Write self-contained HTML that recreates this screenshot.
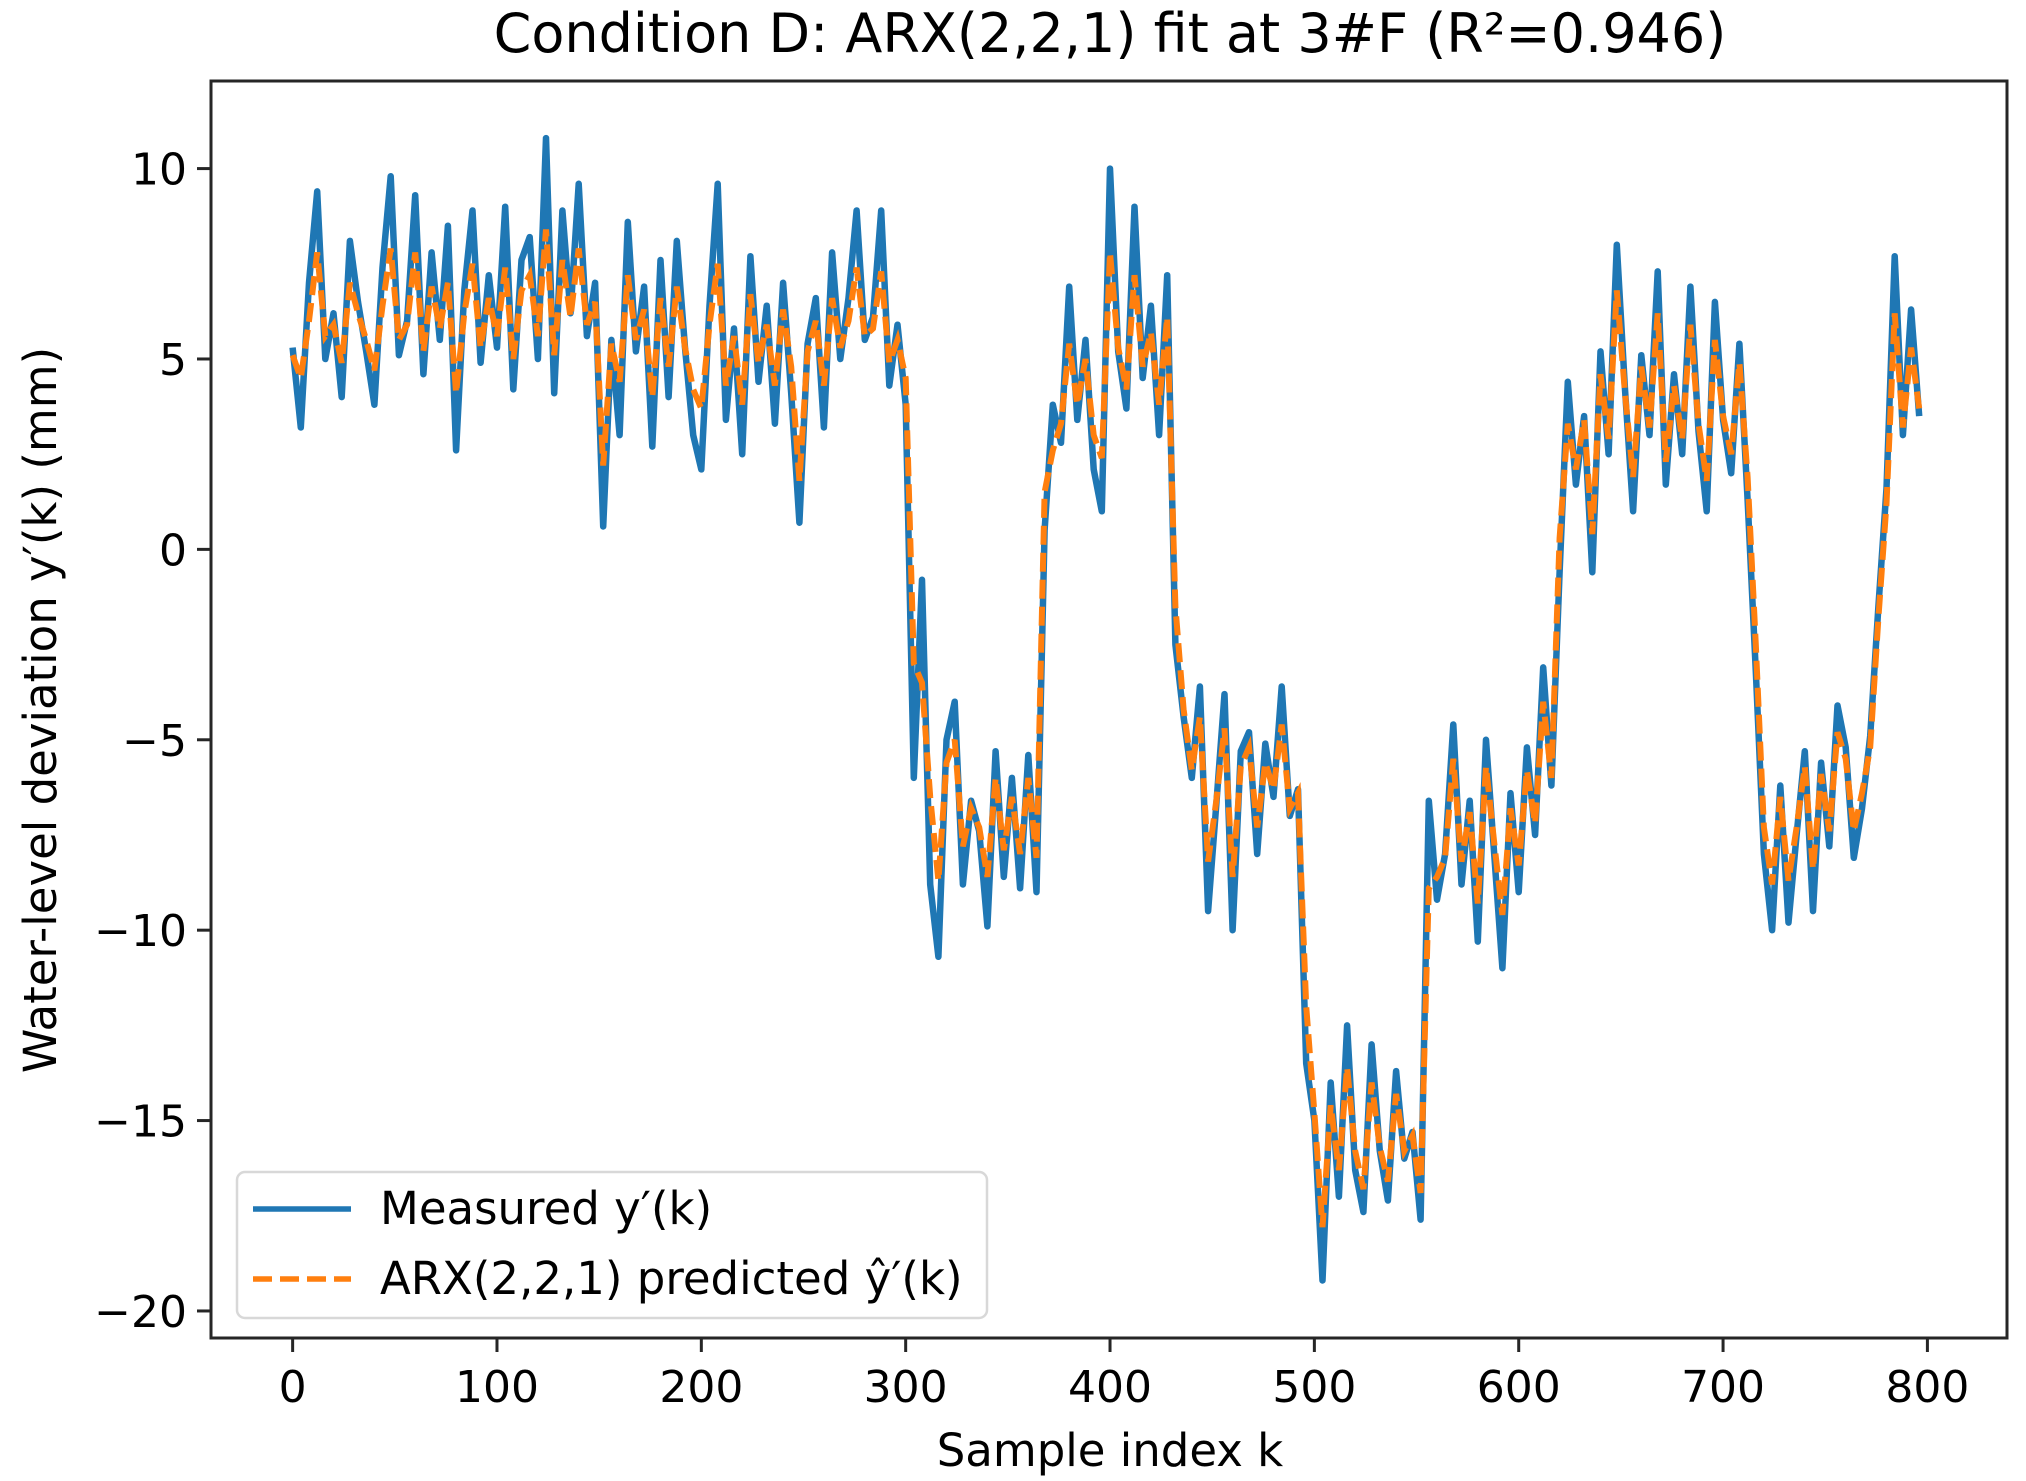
<!DOCTYPE html>
<html><head><meta charset="utf-8"><style>
html,body{margin:0;padding:0;background:#fff}
svg{display:block;font-family:"DejaVu Sans","Liberation Sans",sans-serif}
</style></head><body>
<svg id="chart" width="2026" height="1481" viewBox="0 0 2026 1481" xmlns="http://www.w3.org/2000/svg">
<rect width="2026" height="1481" fill="#fff"/>
<text x="1110" y="52" font-size="54" text-anchor="middle" fill="#000">Condition D: ARX(2,2,1) fit at 3#F (R²=0.946)</text>
<g id="plot"></g>
<g id="axes"></g>
<text x="1110" y="1466" font-size="45" text-anchor="middle">Sample index k</text>
<text transform="translate(56,710) rotate(-90)" font-size="45" text-anchor="middle">Water-level deviation y′(k) (mm)</text>
<g>
<rect x="237" y="1172" width="750" height="146" rx="8" fill="#fff" fill-opacity="0.8" stroke="#d8d8d8" stroke-width="2.5"/>
<line x1="253" y1="1209" x2="351" y2="1209" stroke="#1f77b4" stroke-width="5.5"/>
<text x="380" y="1224" font-size="45">Measured y′(k)</text>
<line x1="253" y1="1279" x2="351" y2="1279" stroke="#ff7f0e" stroke-width="5.5" stroke-dasharray="19,8"/>
<text x="380" y="1294" font-size="45">ARX(2,2,1) predicted ŷ′(k)</text>
</g>
</svg>
<script>
const sampleStep = 4;
const measured = [
5.3,3.2,7.0,9.4,5.0,6.2,4.0,8.1,6.5,5.2,
3.8,7.4,9.8,5.1,6.0,9.3,4.6,7.8,5.5,8.5,
2.6,6.8,8.9,4.9,7.2,5.3,9.0,4.2,7.6,8.2,
5.0,10.8,4.1,8.9,6.2,9.6,5.6,7.0,0.6,5.5,
3.0,8.6,5.2,6.9,2.7,7.6,4.0,8.1,5.3,3.0,
2.1,6.4,9.6,3.4,5.8,2.5,7.7,4.4,6.4,3.3,
7.0,4.1,0.7,5.4,6.6,3.2,7.8,5.0,6.6,8.9,
5.5,6.1,8.9,4.3,5.9,3.8,-6.0,-0.8,-8.8,-10.7,
-5.0,-4.0,-8.8,-6.6,-7.4,-9.9,-5.3,-8.6,-6.0,-8.9,
-5.4,-9.0,0.5,3.8,2.8,6.9,3.4,5.5,2.1,1.0,
10.0,5.2,3.7,9.0,4.5,6.4,3.0,7.2,-2.5,-4.4,
-6.0,-3.6,-9.5,-6.7,-3.8,-10.0,-5.3,-4.8,-8.0,-5.1,
-6.5,-3.6,-7.0,-6.3,-13.5,-15.0,-19.2,-14.0,-17.0,-12.5,
-16.3,-17.4,-13.0,-15.8,-17.1,-13.7,-16.0,-15.3,-17.6,-6.6,
-9.2,-8.0,-4.6,-8.8,-6.6,-10.3,-5.0,-8.0,-11.0,-6.4,
-9.0,-5.2,-7.5,-3.1,-6.2,-0.6,4.4,1.7,3.5,-0.6,
5.2,2.5,8.0,4.2,1.0,5.1,3.0,7.3,1.7,4.6,
2.5,6.9,3.1,1.0,6.5,3.4,2.0,5.4,1.3,-3.2,
-8.0,-10.0,-6.2,-9.8,-7.5,-5.3,-9.5,-5.6,-7.8,-4.1,
-5.2,-8.1,-6.8,-4.9,-1.5,1.6,7.7,3.0,6.3,3.5];
const predicted = [
5.1,4.5,6.0,7.8,5.6,5.9,4.9,7.0,6.2,5.5,
4.7,6.4,7.9,5.5,5.9,7.8,5.2,6.9,5.8,7.0,
4.1,6.2,7.5,5.3,6.6,5.6,7.4,5.0,6.8,7.2,
5.6,8.4,5.1,7.6,6.1,7.9,5.9,6.5,2.2,5.4,
4.4,7.2,5.5,6.3,4.0,6.6,4.8,6.9,5.3,4.2,
3.7,5.9,7.5,4.3,5.6,3.8,6.7,4.9,5.9,4.3,
6.3,4.8,1.8,5.2,6.0,4.3,6.6,5.3,6.0,7.4,
5.6,5.8,7.3,4.9,5.5,4.5,-3.0,-3.5,-6.5,-8.7,
-5.6,-5.0,-7.8,-6.8,-7.3,-8.6,-6.0,-7.9,-6.5,-8.0,
-6.0,-8.1,1.5,2.6,3.3,5.4,3.8,5.0,3.0,2.4,
7.8,5.3,4.2,7.2,4.8,5.7,3.8,6.1,-1.5,-4.2,
-5.8,-4.4,-8.2,-6.6,-4.7,-8.6,-5.7,-5.2,-7.3,-5.6,
-6.3,-4.6,-6.8,-6.4,-12.0,-14.8,-17.8,-14.6,-16.3,-13.6,
-15.8,-16.8,-14.0,-15.7,-16.6,-14.3,-15.8,-15.4,-16.9,-8.9,
-8.6,-8.1,-5.5,-8.2,-6.9,-9.3,-5.7,-7.7,-9.6,-6.8,
-8.3,-5.8,-7.2,-4.0,-6.0,0.3,3.3,2.1,3.4,0.4,
4.6,2.9,6.8,4.1,1.9,4.8,3.2,6.2,2.3,4.3,
2.9,5.9,3.3,1.8,5.5,3.5,2.5,4.9,1.9,-2.5,
-7.3,-8.8,-6.5,-8.7,-7.3,-5.7,-8.4,-5.9,-7.4,-4.8,
-5.5,-7.4,-6.4,-5.2,-1.8,1.2,6.2,3.2,5.3,3.7];
const xTicks = [0,100,200,300,400,500,600,700,800];
const yTicks = [-20,-15,-10,-5,0,5,10];

const L=211,R=2007,T=81,B=1338;
const xMin=-39.95,xMax=838.95,yMin=-20.71,yMax=12.3;
function xs(v){return L+(v-xMin)/(xMax-xMin)*(R-L);}
function ys(v){return B-(v-yMin)/(yMax-yMin)*(B-T);}
const NS="http://www.w3.org/2000/svg";
const plot=document.getElementById('plot');
const axes=document.getElementById('axes');
function mk(tag,attrs,parent){const e=document.createElementNS(NS,tag);for(const k in attrs)e.setAttribute(k,attrs[k]);parent.appendChild(e);return e;}

function pathFor(arr){return arr.map((v,i)=>(i?'L':'M')+xs(i*sampleStep).toFixed(1)+','+ys(v).toFixed(1)).join('');}
const p1=mk('path',{d:pathFor(measured),fill:'none',stroke:'#1f77b4','stroke-width':6.5,'stroke-linejoin':'round'},plot);


const p2=mk('path',{d:pathFor(predicted),fill:'none',stroke:'#ff7f0e','stroke-width':6,'stroke-dasharray':'19,8'},plot);



const frame=mk('rect',{x:L,y:T,width:R-L,height:B-T,fill:'none',stroke:'#262626','stroke-width':3},axes);


xTicks.forEach(t=>{
  const x=xs(t);
  const tk=mk('line',{x1:x,y1:B,x2:x,y2:B+14,stroke:'#262626','stroke-width':3},axes);
  
  
  const tx=mk('text',{x:x,y:B+64,'font-size':44,'text-anchor':'middle'},axes);
  tx.textContent=String(t);
  
  
});
yTicks.forEach(t=>{
  const y=ys(t);
  const tk=mk('line',{x1:L-14,y1:y,x2:L,y2:y,stroke:'#262626','stroke-width':3},axes);
  
  
  const tx=mk('text',{x:L-24,y:y+16,'font-size':44,'text-anchor':'end'},axes);
  tx.textContent=t<0?'\u2212'+Math.abs(t):String(t);
  
  
});
</script>
</body></html>
